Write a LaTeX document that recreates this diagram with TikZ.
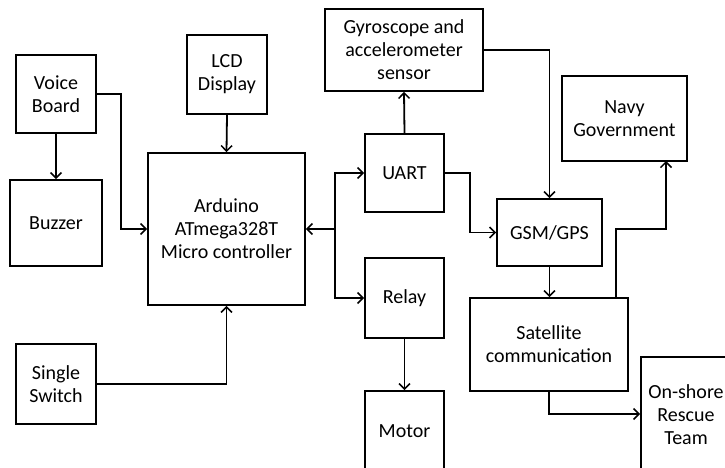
\documentclass[tikz,border=0pt]{standalone}
\usepackage{fontspec}
\setmainfont{Carlito}
\usetikzlibrary{arrows.meta}
\begin{document}
\begin{tikzpicture}[x=1pt,y=-1pt,
  blk/.style={draw, line width=1.8pt, rectangle, inner sep=0pt, align=center,
    font=\fontsize{20}{23}\selectfont},
  conn/.style={line width=1.8pt, -{Straight Barb[length=5.5pt,width=11pt,line width=1.5pt]}},
  plain/.style={line width=1.8pt}]
\useasboundingbox (0,0) rectangle (725,468);
\clip (0,0) rectangle (725,468);
% blocks (centre, size)
\node[blk, minimum width=80, minimum height=78] (voice) at (56,94) {Voice\\Board};
\node[blk, minimum width=92, minimum height=86] (buzzer) at (56,223) {Buzzer};
\node[blk, minimum width=80, minimum height=79] (lcd) at (227,74.5) {LCD\\Display};
\node[blk, minimum width=157, minimum height=152] (ard) at (226.5,229) {Arduino\\ATmega328T\\Micro controller};
\node[blk, minimum width=80, minimum height=80] (switch) at (56,384) {Single\\Switch};
\node[blk, minimum width=158, minimum height=82] (gyro) at (404,50) {Gyroscope and\\accelerometer\\sensor};
\node[blk, minimum width=79, minimum height=78] (uart) at (404.5,173) {UART};
\node[blk, minimum width=79, minimum height=80] (relay) at (404.5,298) {Relay};
\node[blk, minimum width=79, minimum height=80] (motor) at (404.5,431) {Motor};
\node[blk, minimum width=105, minimum height=67] (gsm) at (549.5,232.5) {GSM/GPS};
\node[blk, minimum width=125, minimum height=85] (navy) at (624.5,118.5) {Navy\\Government};
\node[blk, minimum width=158, minimum height=93] (sat) at (549,344.5) {Satellite\\communication};
\node[blk, minimum width=90, minimum height=116] (shore) at (686,415) {On-shore\\Rescue\\Team};
% connectors
\draw[conn] (voice.south) -- (buzzer.north);
\draw[conn] (voice.east) -- (121,94) |- (ard.west);
\draw[conn] (lcd.south) -- (ard.north);
\draw[conn] (switch.east) -| (ard.south);
\coordinate (bus) at (335,229);
\draw[conn] (bus) -- (ard.east);
\draw[conn] (bus) |- (uart.west);
\draw[conn] (bus) |- (relay.west);
\draw[conn] (uart.north) -- (gyro.south);
\draw[conn] (relay.south) -- (motor.north);
\draw[conn] (uart.east) -- (470,173) |- (gsm.west);
\draw[conn] (gyro.east) -| (gsm.north);
\draw[conn] (gsm.south) -- (sat.north -| gsm.south);
\coordinate (satup) at (616,298);
\coordinate (navyin) at (666,161);
\draw[conn] (satup) -- (616,229) -| (navyin);
\draw[conn] (sat.south) |- (shore.west |- 0,414);
\end{tikzpicture}
\end{document}
